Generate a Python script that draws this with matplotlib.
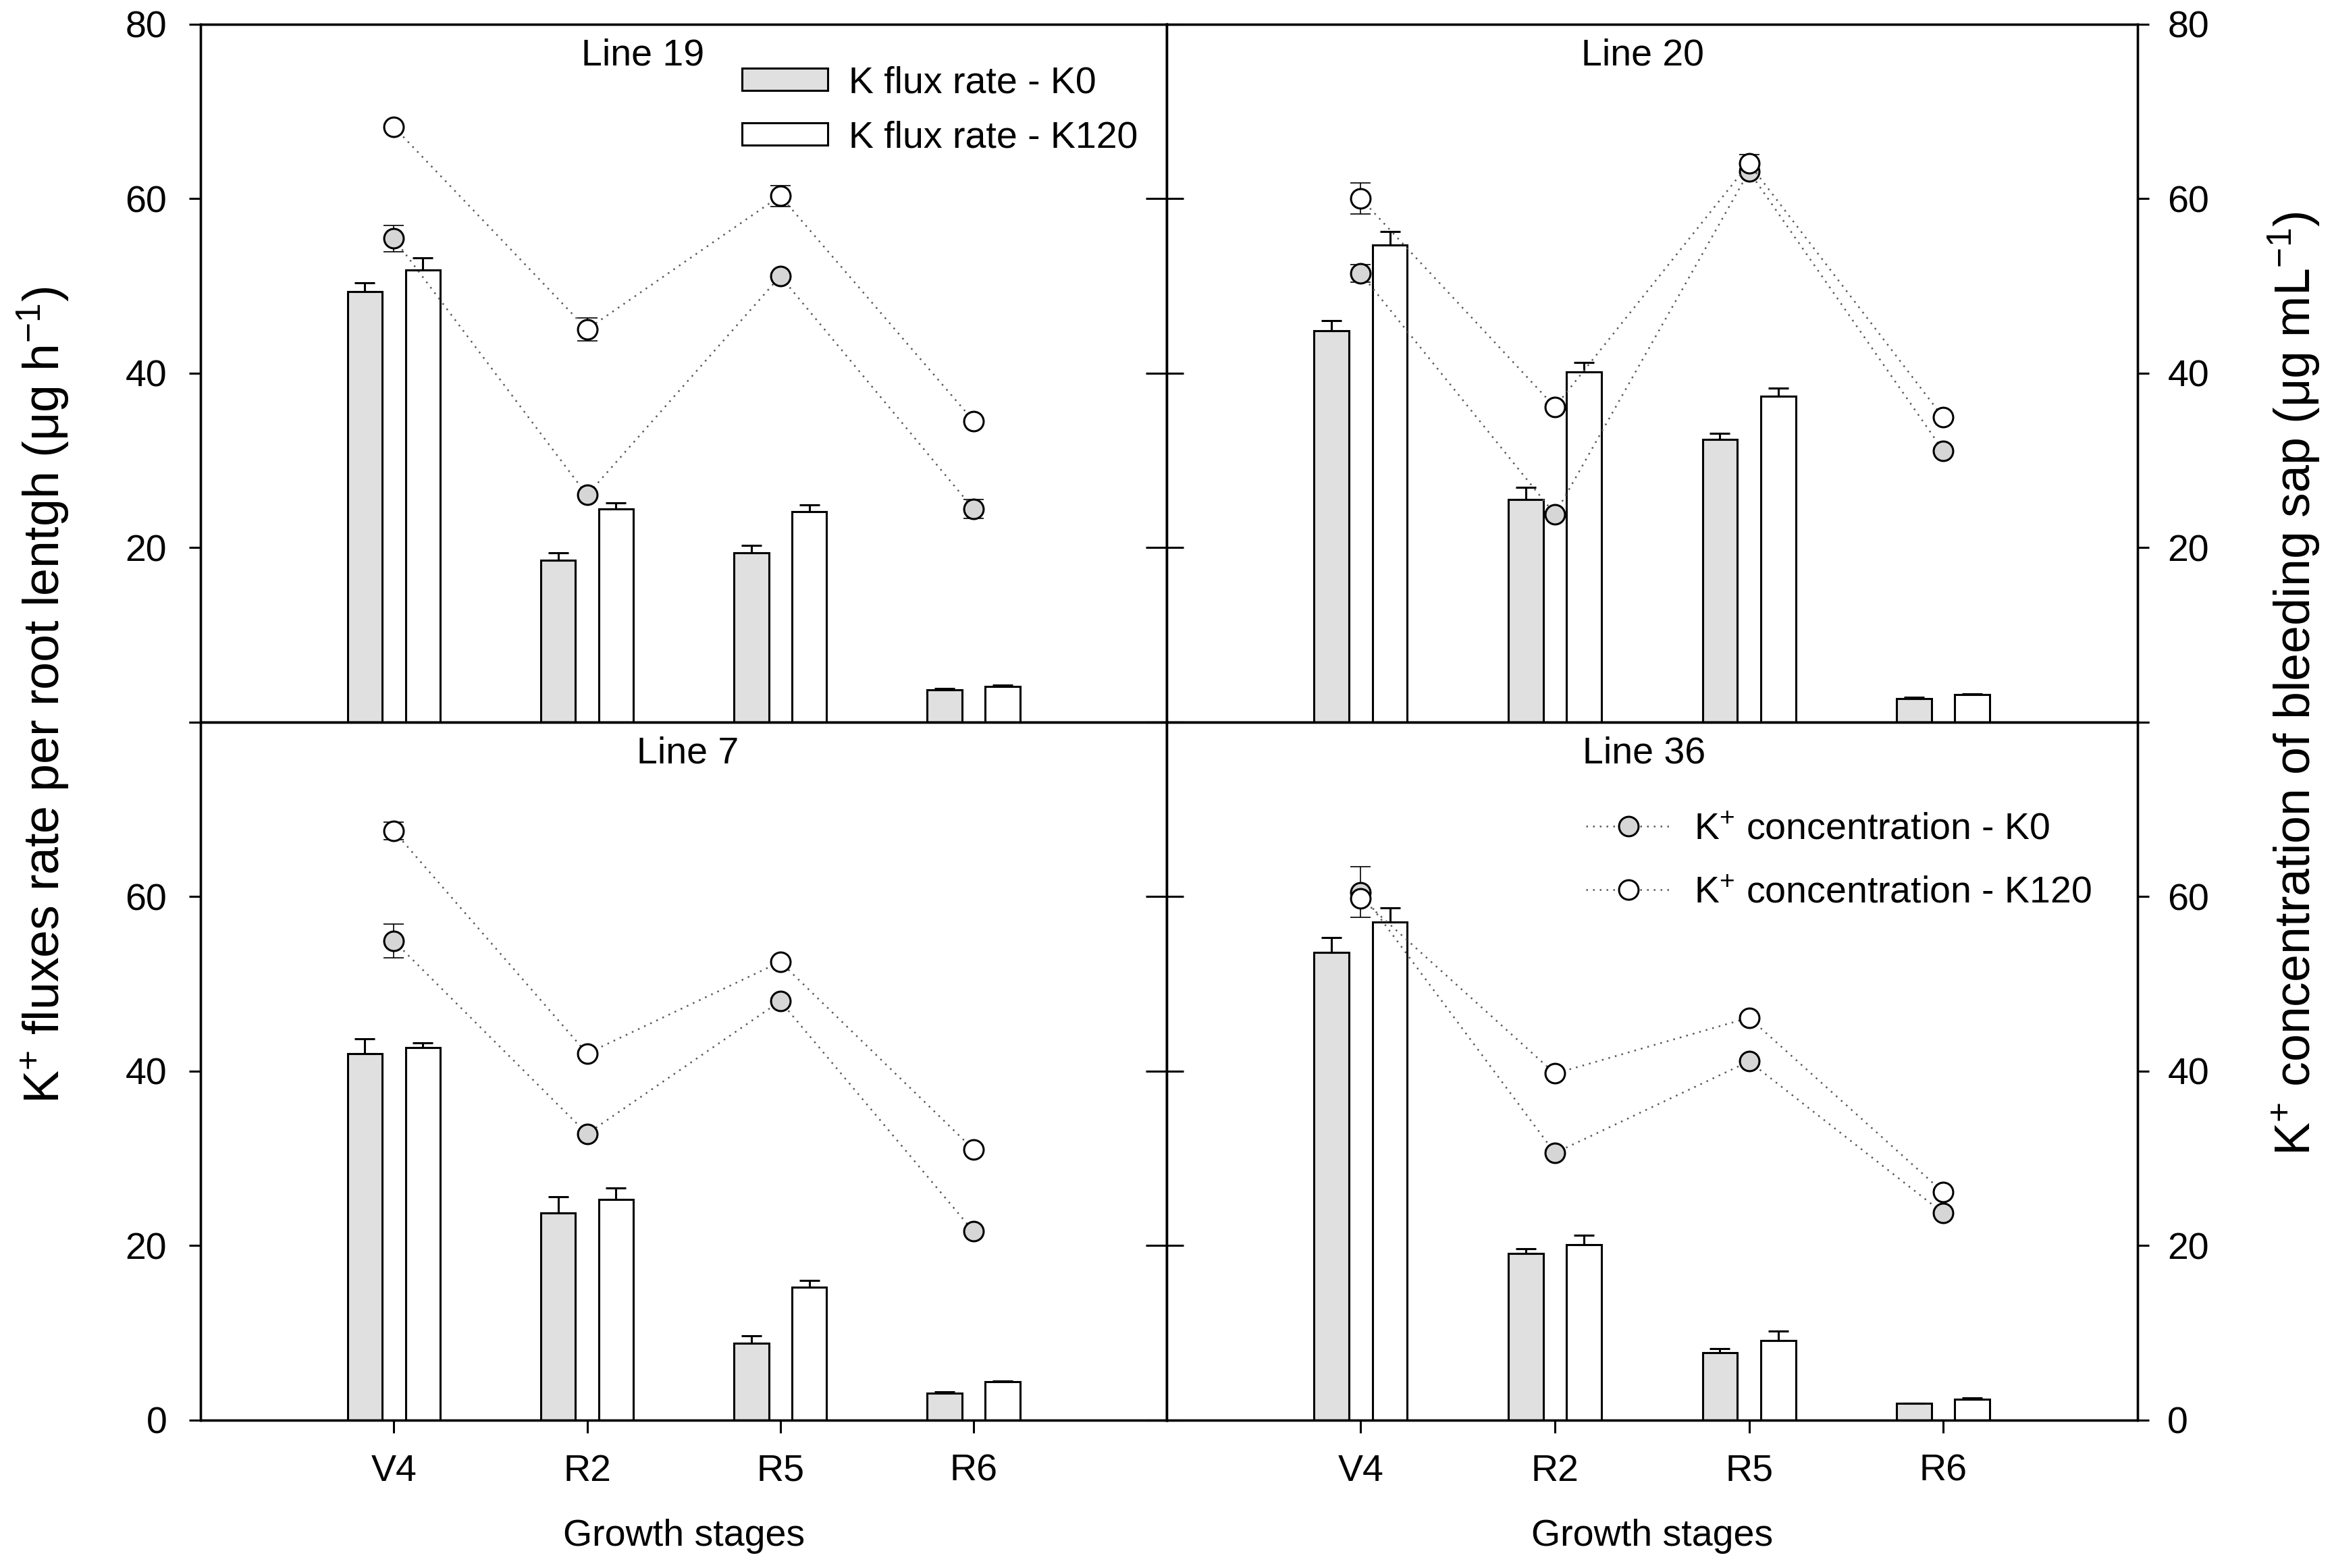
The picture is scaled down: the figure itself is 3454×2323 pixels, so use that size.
import numpy as np
import matplotlib
matplotlib.use("Agg")
import matplotlib.pyplot as plt

plt.rcParams['font.family'] = ['Liberation Sans', 'DejaVu Sans']
plt.rcParams['mathtext.fontset'] = 'custom'
plt.rcParams['mathtext.rm'] = 'Liberation Sans'
plt.rcParams['mathtext.it'] = 'Liberation Sans:italic'
plt.rcParams['font.size'] = 20

# data (panel order: Line 19, Line 20, Line 7, Line 36)
stages = ['V4', 'R2', 'R5', 'R6']
panel_names = ['Line 19', 'Line 20', 'Line 7', 'Line 36']

flux_k0 = [
    [49.3, 18.5, 19.4, 3.7],
    [44.8, 25.5, 32.4, 2.7],
    [42.0, 23.7, 8.8, 3.1],
    [53.6, 19.1, 7.7, 1.9],
]
flux_k0_err = [
    [1.0, 0.9, 0.8, 0.1],
    [1.2, 1.4, 0.7, 0.1],
    [1.7, 1.9, 0.85, 0.1],
    [1.7, 0.5, 0.45, 0.05],
]
flux_k120 = [
    [51.8, 24.4, 24.1, 4.1],
    [54.7, 40.1, 37.3, 3.1],
    [42.7, 25.3, 15.2, 4.4],
    [57.1, 20.1, 9.1, 2.4],
]
flux_k120_err = [
    [1.4, 0.7, 0.8, 0.1],
    [1.5, 1.1, 0.95, 0.15],
    [0.55, 1.25, 0.8, 0.1],
    [1.6, 1.1, 1.1, 0.1],
]
conc_k0 = [
    [55.4, 26.0, 51.1, 24.4],
    [51.4, 23.8, 63.1, 31.1],
    [54.9, 32.8, 48.0, 21.6],
    [60.5, 30.6, 41.1, 23.7],
]
conc_k0_err = [
    [1.5, 0.3, 0.3, 1.1],
    [1.0, 0.3, 0.3, 0.3],
    [1.9, 0.3, 0.3, 0.3],
    [2.9, 0.3, 0.3, 0.3],
]
conc_k120 = [
    [68.2, 45.0, 60.3, 34.5],
    [60.0, 36.1, 64.0, 34.9],
    [67.5, 42.0, 52.5, 31.0],
    [59.8, 39.7, 46.1, 26.1],
]
conc_k120_err = [
    [0.3, 1.3, 1.2, 0.3],
    [1.75, 0.3, 1.0, 0.3],
    [1.0, 0.3, 0.3, 0.3],
    [0.3, 0.3, 0.3, 0.3],
]

title_x = [0.458, 0.49, 0.504, 0.492]

fig = plt.figure(figsize=(17.275, 11.615), dpi=200)

# axes boxes [left, bottom, width, height]
boxes = [
    [0.0860, 0.5396, 0.4142, 0.4451],
    [0.5001, 0.5396, 0.4162, 0.4451],
    [0.0860, 0.0944, 0.4142, 0.4452],
    [0.5001, 0.0944, 0.4162, 0.4452],
]

x = np.arange(1, 5)
bw = 0.18
off = 0.15
gray_bar = '#e0e0e0'
gray_dot = '#d6d6d6'

for i in range(4):
    row, col = i // 2, i % 2
    ax = fig.add_axes(boxes[i])
    ax2 = ax.twinx()

    b0 = ax.bar(x - off, flux_k0[i], bw, color=gray_bar, edgecolor='black', linewidth=1.1,
                yerr=[np.zeros(4), flux_k0_err[i]], capsize=5.4,
                error_kw=dict(elinewidth=1.1, capthick=1.1, ecolor='black'),
                label='K flux rate - K0')
    b1 = ax.bar(x + off, flux_k120[i], bw, color='white', edgecolor='black', linewidth=1.1,
                yerr=[np.zeros(4), flux_k120_err[i]], capsize=5.4,
                error_kw=dict(elinewidth=1.1, capthick=1.1, ecolor='black'),
                label='K flux rate - K120')

    # concentration on the right axis
    ax2.errorbar(x, conc_k0[i], yerr=conc_k0_err[i], fmt='none', ecolor='black',
                 elinewidth=0.6, capsize=5.4, capthick=0.6, zorder=2)
    ax2.errorbar(x, conc_k120[i], yerr=conc_k120_err[i], fmt='none', ecolor='black',
                 elinewidth=0.6, capsize=5.4, capthick=0.6, zorder=2)
    l0, = ax2.plot(x, conc_k0[i], ls=(0, (1, 3)), lw=0.9, color='0.35', marker='o',
                   ms=10.4, mfc=gray_dot, mec='black', mew=1.1, zorder=3,
                   label=r'K$^{+}$ concentration - K0')
    l1, = ax2.plot(x, conc_k120[i], ls=(0, (1, 3)), lw=0.9, color='0.35', marker='o',
                   ms=10.4, mfc='white', mec='black', mew=1.1, zorder=3,
                   label=r'K$^{+}$ concentration - K120')

    ax.set_xlim(0, 5)
    ax.set_ylim(0, 80)
    ax2.set_ylim(0, 80)
    ticks = [0, 20, 40, 60, 80]
    if row == 0:
        labels = ['', '20', '40', '60', '80']
    else:
        labels = ['0', '20', '40', '60', '']
    ax.set_yticks(ticks)
    ax2.set_yticks(ticks)
    if col == 0:
        ax.set_yticklabels(labels)
        ax2.set_yticklabels([''] * 5)
        ax.tick_params(axis='y', direction='out', length=6, width=1.1, pad=12, labelsize=20)
        ax2.tick_params(axis='y', direction='in', length=11, width=1.1)
    else:
        ax.set_yticklabels([''] * 5)
        ax2.set_yticklabels(labels)
        ax.tick_params(axis='y', direction='in', length=9, width=1.1)
        ax2.tick_params(axis='y', direction='out', length=6, width=1.1, pad=10, labelsize=20)

    if row == 1:
        ax.set_xticks(x)
        ax.set_xticklabels(stages)
        ax.tick_params(axis='x', direction='out', length=7, width=1.1, pad=11, labelsize=20)
        ax.set_xlabel('Growth stages', fontsize=20, labelpad=16)
    else:
        ax.set_xticks([])

    for a in (ax, ax2):
        for s in a.spines.values():
            s.set_linewidth(1.2)

    ax.text(title_x[i], 0.955, panel_names[i], transform=ax.transAxes,
            ha='center', va='center', fontsize=20)

    if i == 0:
        ax2.legend(handles=[b0, b1], loc='center left', bbox_to_anchor=(0.56, 0.876),
                   frameon=False, fontsize=20, handlelength=2.3, handleheight=0.55,
                   handletextpad=0.55, labelspacing=0.52, borderpad=0, borderaxespad=0)
    if i == 3:
        ax2.legend(handles=[l0, l1], loc='center left', bbox_to_anchor=(0.432, 0.8),
                   frameon=False, fontsize=20, handlelength=2.25, numpoints=1,
                   handletextpad=0.63, labelspacing=0.75, borderpad=0, borderaxespad=0)

fig.text(0.0185, 0.5566, r'K$^{+}$ fluxes rate per root lentgh (μg h$^{-1}$)',
         rotation=90, ha='center', va='center', fontsize=26.5)
fig.text(0.9833, 0.564, r'K$^{+}$ concentration of bleeding sap (μg mL$^{-1}$)',
         rotation=90, ha='center', va='center', fontsize=26.5)

fig.savefig('out.png', dpi=200)
